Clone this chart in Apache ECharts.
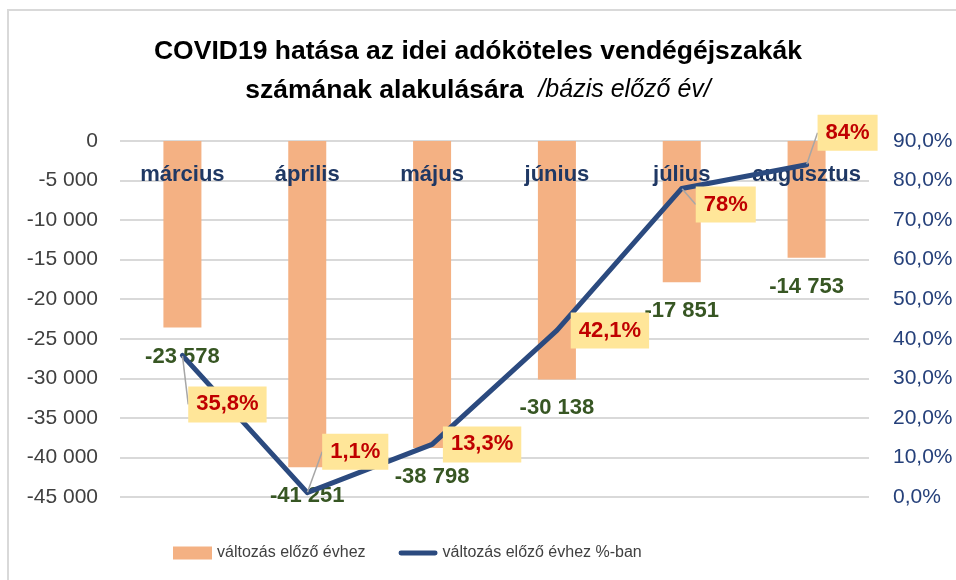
<!DOCTYPE html>
<html>
<head>
<meta charset="utf-8">
<script src="https://cdn.jsdelivr.net/npm/echarts@6/dist/echarts.min.js"></script>
<style>
  html, body { margin: 0; padding: 0; background: #fff; }
  #chart { width: 956px; height: 580px; }
</style>
</head>
<body>
<div id="chart"></div>
<script>
// adatok
const months = ['március', 'április', 'május', 'június', 'július', 'augusztus']
const changeAbs = [-23578, -41251, -38798, -30138, -17851, -14753]
const changePct = [35.8, 1.1, 13.3, 42.1, 78, 84]
const pctLabels = ['35,8%', '1,1%', '13,3%', '42,1%', '78%', '84%']

// címkék eltolása a pontokhoz képest
const pctOffsets = [[45, 49], [48, -41], [50, 0], [53, 0], [44, 16], [41, -32]]
const pctGuide = [true, true, false, false, true, true]

const font = "'Liberation Sans', Arial, sans-serif"
const fmtThousands = v => {
  const s = Math.abs(v).toString().replace(/\B(?=(\d{3})+(?!\d))/g, ' ')
  return (v < 0 ? '-' : '') + s
}

const chart = echarts.init(document.getElementById('chart'))
chart.setOption({
  animation: false,
  textStyle: { fontFamily: font },
  title: {
    left: 'center',
    top: 27,
    text: 'COVID19 hatása az idei adóköteles vendégéjszakák\n{b|számának alakulására}  {i|/bázis előző év/}',
    textStyle: {
      fontFamily: font, fontSize: 26.5, fontWeight: 'bold', color: '#000', lineHeight: 39,
      rich: {
        b: { fontFamily: font, fontSize: 26.5, fontWeight: 'bold', color: '#000', lineHeight: 39 },
        i: { fontFamily: font, fontSize: 25, fontStyle: 'italic', fontWeight: 'normal', color: '#000', lineHeight: 39 }
      }
    }
  },
  graphic: [{
    type: 'polyline',
    shape: { points: [[8, 580], [8, 10], [956, 10]] },
    style: { stroke: '#D9D9D9', lineWidth: 2, fill: null }
  }],
  legend: {
    left: 168,
    top: 540,
    itemGap: 33,
    itemWidth: 39,
    itemHeight: 13,
    textStyle: { fontFamily: font, fontSize: 16, color: '#404040' },
    data: [
      { name: 'változás előző évhez', icon: 'rect' },
      { name: 'változás előző évhez %-ban', icon: 'path://M2.5,0h35a2.5,2.5 0 0 1 0,5h-35a2.5,2.5 0 0 1 0,-5z' }
    ]
  },
  grid: { left: 120, right: 87, top: 141, bottom: 83 },
  xAxis: {
    type: 'category',
    position: 'top',
    data: months,
    z: 3,
    axisLine: { show: false },
    axisTick: { show: false },
    axisLabel: {
      inside: true, interval: 0, margin: 23, fontFamily: font, fontSize: 22, fontWeight: 'bold', color: '#1F3864'
    }
  },
  yAxis: [{
    type: 'value',
    min: -45000, max: 0, interval: 5000,
    axisLine: { show: false },
    axisTick: { show: false },
    axisLabel: { margin: 22, fontFamily: font, fontSize: 21, color: '#404040', formatter: fmtThousands },
    splitLine: { lineStyle: { color: '#D9D9D9', width: 2 } }
  }, {
    type: 'value',
    min: 0, max: 90, interval: 10,
    axisLine: { show: false },
    axisTick: { show: false },
    axisLabel: {
      margin: 24, fontFamily: font, fontSize: 21, color: '#25407A',
      formatter: v => v.toFixed(1).replace('.', ',') + '%'
    },
    splitLine: { show: false }
  }],
  series: [{
    name: 'változás előző évhez',
    type: 'bar',
    data: changeAbs,
    barWidth: 38,
    z: 2,
    itemStyle: { color: '#F4B183' },
    label: {
      show: true, position: 'bottom', distance: 18,
      fontFamily: font, fontSize: 22, fontWeight: 'bold', color: '#375623',
      formatter: p => fmtThousands(p.value)
    }
  }, {
    name: 'változás előző évhez %-ban',
    type: 'line',
    yAxisIndex: 1,
    z: 4,
    data: changePct.map((v, i) => ({ value: v, labelLine: { show: pctGuide[i] } })),
    symbol: 'circle',
    symbolSize: 1,
    showSymbol: true,
    itemStyle: { color: '#2B4A7F' },
    lineStyle: { color: '#2B4A7F', width: 5, join: 'round', cap: 'round' },
    label: {
      show: true, position: 'inside',
      fontFamily: font, fontSize: 22, fontWeight: 'bold', color: '#C00000',
      backgroundColor: '#FFE699', padding: [7, 8],
      formatter: p => pctLabels[p.dataIndex]
    },
    labelLine: { show: true, lineStyle: { color: '#A6A6A6', width: 1.5 } },
    labelLayout: p => ({ dx: pctOffsets[p.dataIndex][0], dy: pctOffsets[p.dataIndex][1] })
  }]
})
</script>
</body>
</html>
